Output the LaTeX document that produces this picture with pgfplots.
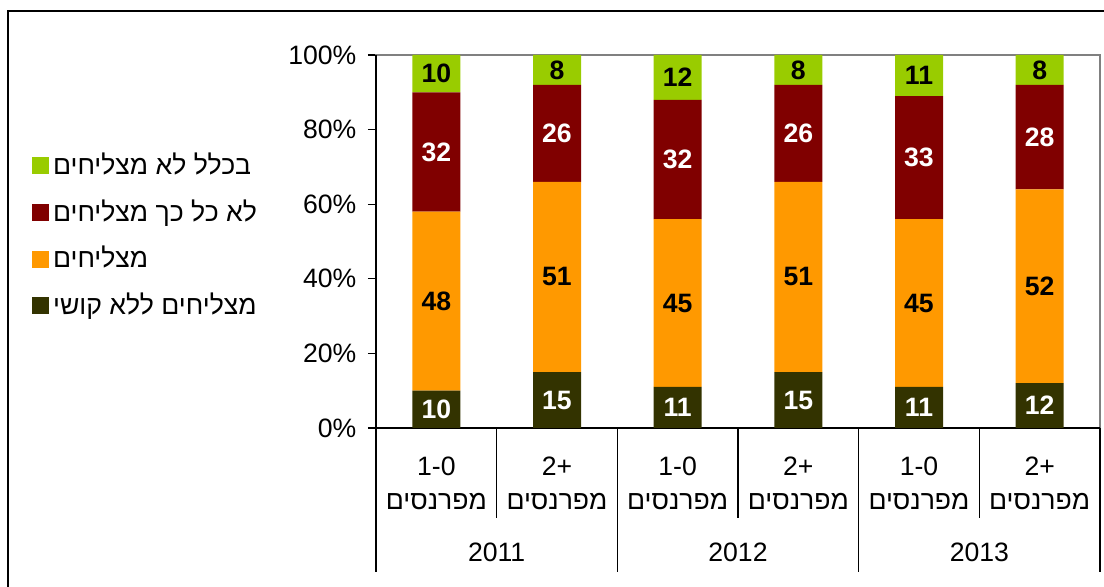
\documentclass[border=0pt]{standalone}
\usepackage{fontspec}
\setmainfont{Liberation Sans}
\newfontfamily\heb[Script=Hebrew]{Liberation Sans}
\TeXXeTstate=1
\usepackage{pgfplots}
\usepackage{pgfplotstable}
\pgfplotsset{compat=1.18}
\definecolor{cgreen}{HTML}{99CC00}
\definecolor{cmaroon}{HTML}{800000}
\definecolor{corange}{HTML}{FF9900}
\definecolor{colive}{HTML}{333300}
\pgfplotstableread{
x a b c d
0 10 48 32 10
1 15 51 26 8
2 11 45 32 12
3 15 51 26 8
4 11 45 33 11
5 12 52 28 8
}\data
\begin{document}
\fontsize{13.3pt}{16pt}\selectfont
\begin{tikzpicture}[font=\fontsize{13.3pt}{16pt}\selectfont]
\useasboundingbox (0,0) rectangle (552pt,-293.5pt);
\begin{scope}
\clip (0,0) rectangle (552pt,-293.5pt);
\draw[line width=0.8pt] (4pt,-320pt) -- (4pt,-5.5pt) -- (600pt,-5.5pt);
\end{scope}
\begin{axis}[
  at={(188pt,-214pt)}, anchor=south west,
  scale only axis, width=362pt, height=186.5pt,
  ybar stacked, bar width=24pt,
  xmin=-0.5, xmax=5.5, ymin=0, ymax=100,
  clip=false,
  axis line style={draw=gray, line width=0.6pt},
  ytick={0,20,...,100},
  yticklabel={\pgfmathprintnumber{\tick}\%},
  yticklabel style={xshift=-1.2pt},
  /pgf/number format/assume math mode=true,
  tick align=outside, major tick length=4pt,
  ytick pos=left, xtick pos=bottom,
  ytick style={black, line width=0.6pt},
  xtick={0,...,5},
  xtick style={draw=none},
  xticklabels={{1-0\\\heb\beginR מפרנסים\endR},{2+\\\heb\beginR מפרנסים\endR},{1-0\\\heb\beginR מפרנסים\endR},{2+\\\heb\beginR מפרנסים\endR},{1-0\\\heb\beginR מפרנסים\endR},{2+\\\heb\beginR מפרנסים\endR}},
  xticklabel style={align=center, anchor=center, yshift=-23.5pt, font=\fontsize{13.3pt}{17pt}\selectfont},
  nodes near coords={\pgfmathprintnumber{\rawy}},
  visualization depends on=rawy\as\rawy,
  every node near coord/.append style={anchor=center, font=\fontsize{13.3pt}{16pt}\selectfont\bfseries},
  legend style={at={(axis description cs:-0.475,0.749)}, anchor=north west, draw=none, fill=none, inner sep=0pt, row sep=7pt, font=\fontsize{13.3pt}{16pt}\selectfont, nodes={inner sep=1.8pt}},
  legend image code/.code={\fill[#1] (0pt,-4.25pt) rectangle (8.5pt,4.25pt);},
  reverse legend, legend cell align=left,
]
\addplot[fill=colive, draw=none, every node near coord/.append style={text=white}] table[x=x,y=a] {\data};
\addlegendentry{\heb\beginR מצליחים ללא קושי\endR}
\addplot[fill=corange, draw=none, every node near coord/.append style={text=black}] table[x=x,y=b] {\data};
\addlegendentry{\heb\beginR מצליחים\endR}
\addplot[fill=cmaroon, draw=none, every node near coord/.append style={text=white}] table[x=x,y=c] {\data};
\addlegendentry{\heb\beginR לא כל כך מצליחים\endR}
\addplot[fill=cgreen, draw=none, every node near coord/.append style={text=black}] table[x=x,y=d] {\data};
\addlegendentry{\heb\beginR בכלל לא מצליחים\endR}
\draw[black, line width=0.6pt] (rel axis cs:0,1) -- (rel axis cs:0,0) -- (rel axis cs:1,0);
\draw[black, line width=0.6pt] (axis cs:-0.5,0) -- ([yshift=-72pt]axis cs:-0.5,0);
\draw[black, line width=0.6pt] (axis cs:1.5,0) -- ([yshift=-72pt]axis cs:1.5,0);
\draw[black, line width=0.6pt] (axis cs:3.5,0) -- ([yshift=-72pt]axis cs:3.5,0);
\draw[black, line width=0.6pt] (axis cs:5.5,0) -- ([yshift=-72pt]axis cs:5.5,0);
\draw[black, line width=0.6pt] (axis cs:0.5,0) -- ([yshift=-45pt]axis cs:0.5,0);
\draw[black, line width=0.6pt] (axis cs:2.5,0) -- ([yshift=-45pt]axis cs:2.5,0);
\draw[black, line width=0.6pt] (axis cs:4.5,0) -- ([yshift=-45pt]axis cs:4.5,0);
\node at (axis cs:0.5,0) [yshift=-62pt] {2011};
\node at (axis cs:2.5,0) [yshift=-62pt] {2012};
\node at (axis cs:4.5,0) [yshift=-62pt] {2013};
\end{axis}
\end{tikzpicture}
\end{document}
